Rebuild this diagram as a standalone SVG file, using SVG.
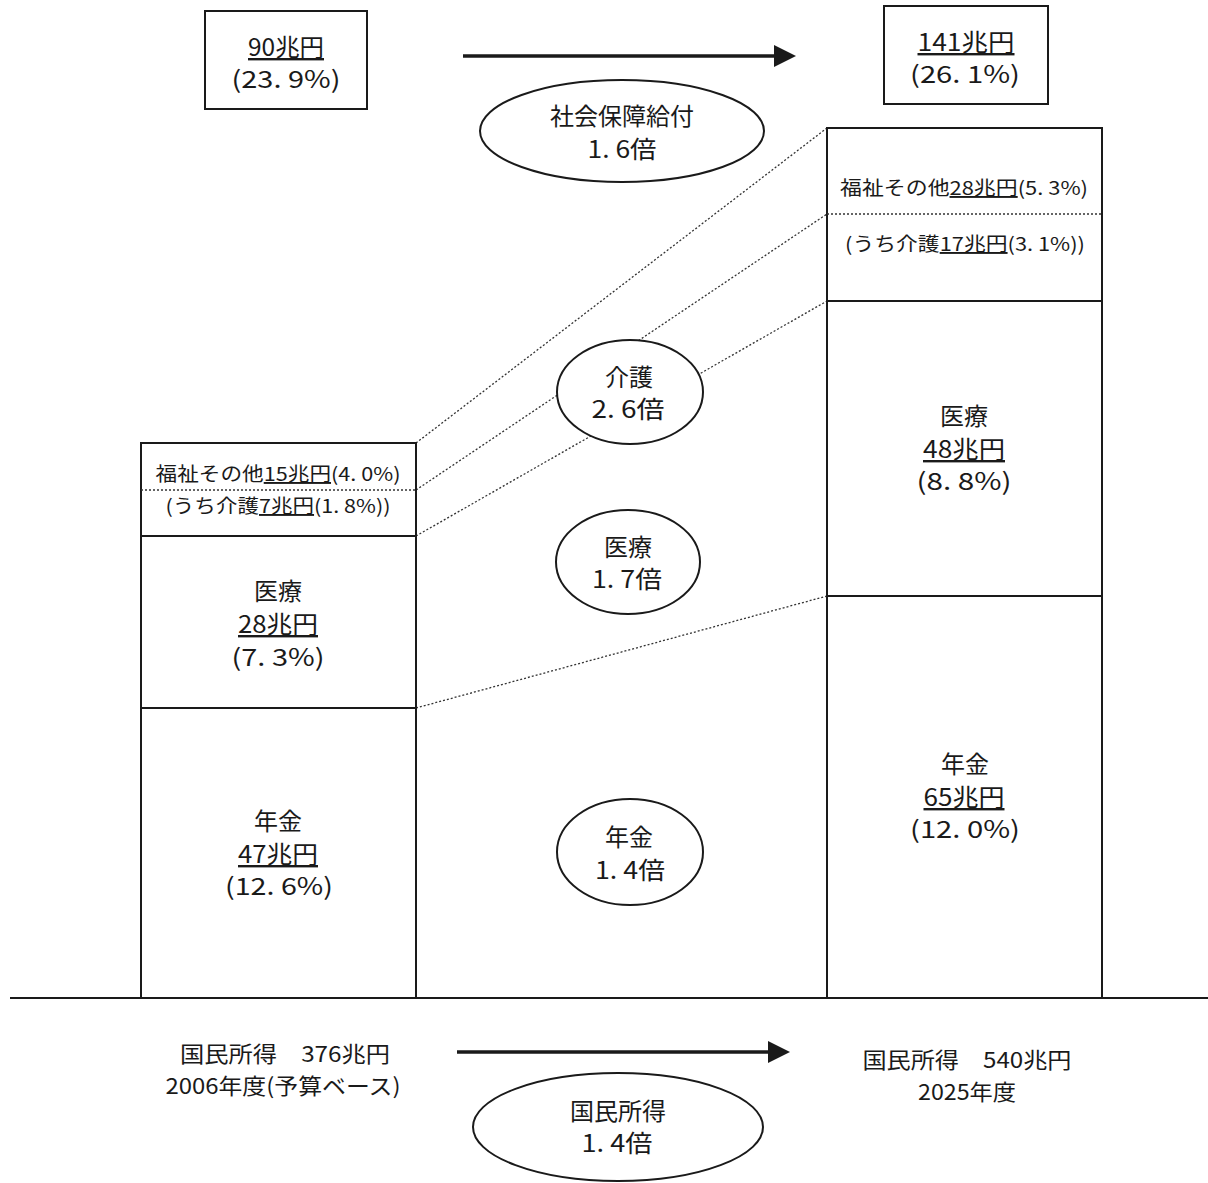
<svg xmlns="http://www.w3.org/2000/svg" width="1208" height="1183" viewBox="0 0 1208 1183">
<style>
text{font-family:"Noto Sans CJK JP","Noto Sans CJK SC",sans-serif;fill:#1a1a1a;text-anchor:middle}
.l{font-size:24px}
.s{font-size:19px}
.b{font-size:22px}
.u{text-decoration:underline}
.box{fill:#fff;stroke:#1a1a1a;stroke-width:2}
.sep{stroke:#1a1a1a;stroke-width:2}
.dot{stroke:#333;stroke-width:1.3;stroke-dasharray:2 2;fill:none}
.ell{fill:#fff;stroke:#1a1a1a;stroke-width:2}
.arr{stroke:#1a1a1a;stroke-width:3.5;fill:none}
</style>
<defs>
<marker id="ah" markerUnits="userSpaceOnUse" markerWidth="22" markerHeight="24" refX="2" refY="12" orient="auto">
<path d="M0,1 L22,12 L0,23 Z" fill="#1a1a1a"/>
</marker>
</defs>
<rect width="1208" height="1183" fill="#fff"/>

<g id="connectors">
<line class="arr" x1="463" y1="56" x2="776" y2="56" marker-end="url(#ah)"/>
<line class="arr" x1="457" y1="1052" x2="770" y2="1052" marker-end="url(#ah)"/>
<line class="dot" x1="416" y1="443" x2="827" y2="128"/>
<line class="dot" x1="416" y1="490" x2="827" y2="214"/>
<line class="dot" x1="416" y1="536" x2="827" y2="301"/>
<line class="dot" x1="416" y1="708" x2="827" y2="596"/>
</g>

<g id="baseline">
<line x1="10" y1="998" x2="1208" y2="998" stroke="#1a1a1a" stroke-width="2"/>
</g>

<g id="total2006">
<rect class="box" x="205" y="11" width="162" height="98"/>
<text class="l" x="286" y="56" textLength="76" lengthAdjust="spacingAndGlyphs"><tspan class="u">90兆円</tspan></text>
<text class="l" x="286" y="88" textLength="109" lengthAdjust="spacingAndGlyphs">(23. 9%)</text>
</g>

<g id="total2025">
<rect class="box" x="884" y="6" width="164" height="98"/>
<text class="l" x="966" y="51" textLength="97" lengthAdjust="spacingAndGlyphs"><tspan class="u">141兆円</tspan></text>
<text class="l" x="965" y="83" textLength="110" lengthAdjust="spacingAndGlyphs">(26. 1%)</text>
</g>

<g id="bar2006">
<rect class="box" x="141" y="443" width="275" height="555"/>
<line class="dot" x1="141" y1="490" x2="416" y2="490"/>
<line class="sep" x1="141" y1="536" x2="416" y2="536"/>
<line class="sep" x1="141" y1="708" x2="416" y2="708"/>
<text class="s" x="278" y="481" textLength="245" lengthAdjust="spacingAndGlyphs">福祉その他<tspan class="u">15兆円</tspan>(4. 0%)</text>
<text class="s" x="278" y="513" textLength="225" lengthAdjust="spacingAndGlyphs">(うち介護<tspan class="u">7兆円</tspan>(1. 8%))</text>
<text class="l" x="278" y="600">医療</text>
<text class="l" x="278" y="633" textLength="80" lengthAdjust="spacingAndGlyphs"><tspan class="u">28兆円</tspan></text>
<text class="l" x="278" y="666" textLength="93" lengthAdjust="spacingAndGlyphs">(7. 3%)</text>
<text class="l" x="278" y="830">年金</text>
<text class="l" x="278" y="863" textLength="80" lengthAdjust="spacingAndGlyphs"><tspan class="u">47兆円</tspan></text>
<text class="l" x="279" y="895" textLength="108" lengthAdjust="spacingAndGlyphs">(12. 6%)</text>
</g>

<g id="bar2025">
<rect class="box" x="827" y="128" width="275" height="870"/>
<line class="dot" x1="827" y1="214" x2="1102" y2="214"/>
<line class="sep" x1="827" y1="301" x2="1102" y2="301"/>
<line class="sep" x1="827" y1="596" x2="1102" y2="596"/>
<text class="s" x="964" y="195" textLength="248" lengthAdjust="spacingAndGlyphs">福祉その他<tspan class="u">28兆円</tspan>(5. 3%)</text>
<text class="s" x="965" y="251" textLength="240" lengthAdjust="spacingAndGlyphs">(うち介護<tspan class="u">17兆円</tspan>(3. 1%))</text>
<text class="l" x="964" y="425">医療</text>
<text class="l" x="964" y="458" textLength="82" lengthAdjust="spacingAndGlyphs"><tspan class="u">48兆円</tspan></text>
<text class="l" x="964" y="490" textLength="95" lengthAdjust="spacingAndGlyphs">(8. 8%)</text>
<text class="l" x="965" y="773">年金</text>
<text class="l" x="964" y="806" textLength="81" lengthAdjust="spacingAndGlyphs"><tspan class="u">65兆円</tspan></text>
<text class="l" x="965" y="838" textLength="110" lengthAdjust="spacingAndGlyphs">(12. 0%)</text>
</g>

<g id="ratioTotal">
<ellipse class="ell" cx="622" cy="131" rx="142" ry="51"/>
<text class="l" x="622" y="125">社会保障給付</text>
<text class="l" x="622" y="158" textLength="69" lengthAdjust="spacingAndGlyphs">1. 6倍</text>
</g>

<g id="ratioKaigo">
<ellipse class="ell" cx="630" cy="392" rx="73" ry="52"/>
<text class="l" x="629" y="386">介護</text>
<text class="l" x="628" y="418" textLength="73" lengthAdjust="spacingAndGlyphs">2. 6倍</text>
</g>

<g id="ratioIryo">
<ellipse class="ell" cx="628" cy="562" rx="72" ry="52"/>
<text class="l" x="628" y="556">医療</text>
<text class="l" x="627" y="588" textLength="70" lengthAdjust="spacingAndGlyphs">1. 7倍</text>
</g>

<g id="ratioNenkin">
<ellipse class="ell" cx="630" cy="852" rx="73" ry="53"/>
<text class="l" x="629" y="846">年金</text>
<text class="l" x="630" y="879" textLength="70" lengthAdjust="spacingAndGlyphs">1. 4倍</text>
</g>

<g id="income2006">
<text class="b" x="285" y="1062" textLength="210" lengthAdjust="spacingAndGlyphs">国民所得　376兆円</text>
<text class="b" x="283" y="1094" textLength="235" lengthAdjust="spacingAndGlyphs">2006年度(予算ベース)</text>
</g>

<g id="income2025">
<text class="b" x="967" y="1068" textLength="209" lengthAdjust="spacingAndGlyphs">国民所得　540兆円</text>
<text class="b" x="967" y="1100" textLength="98" lengthAdjust="spacingAndGlyphs">2025年度</text>
</g>

<g id="ratioIncome">
<ellipse class="ell" cx="618" cy="1127" rx="145" ry="54"/>
<text class="l" x="618" y="1120">国民所得</text>
<text class="l" x="617" y="1152" textLength="71" lengthAdjust="spacingAndGlyphs">1. 4倍</text>
</g>
</svg>
